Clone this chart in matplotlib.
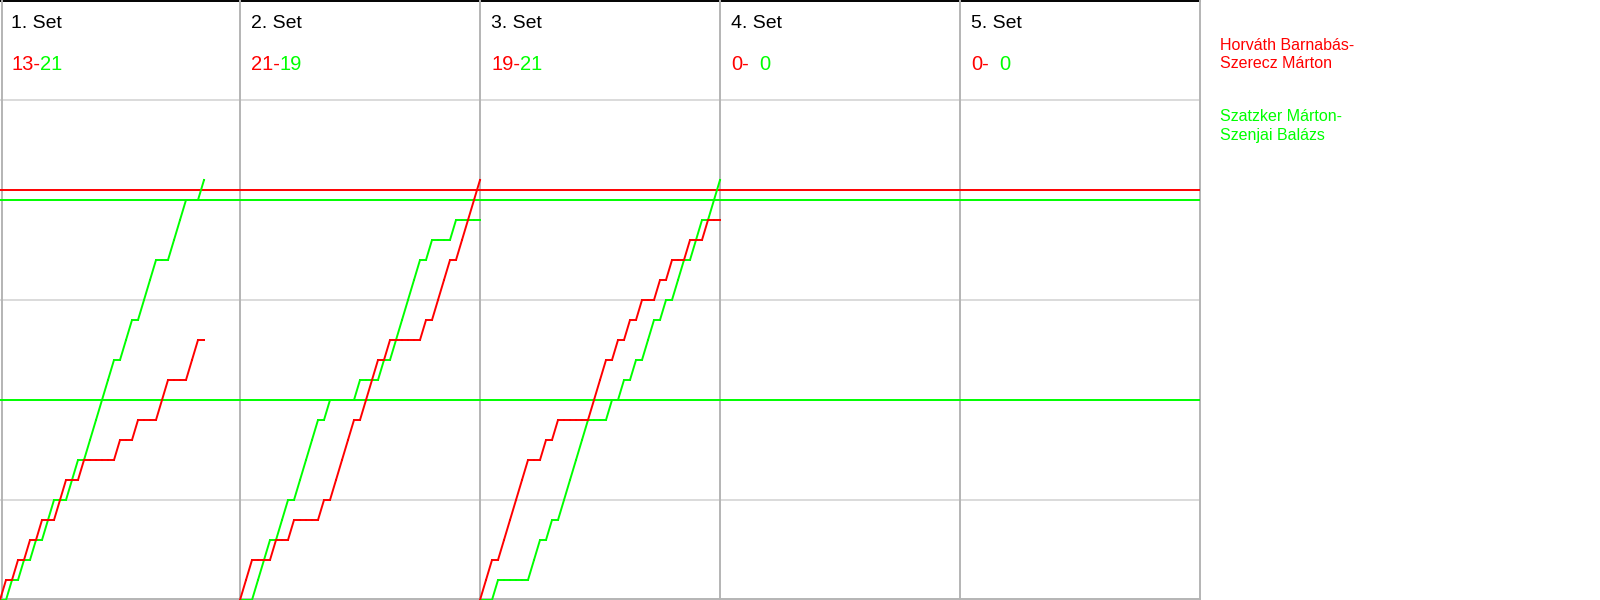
import matplotlib
matplotlib.use("Agg")
import matplotlib.pyplot as plt

plt.rcParams['font.family'] = ['Liberation Sans', 'DejaVu Sans']

RED = '#ff0000'
GREEN = '#00ff00'

set_labels = ["1. Set", "2. Set", "3. Set", "4. Set", "5. Set"]
red_final = [13, 21, 19, 0, 0]
green_final = [21, 19, 21, 0, 0]

team_red = "Horváth Barnabás-\nSzerecz Márton"
team_green = "Szatzker Márton-\nSzenjai Balázs"

# cumulative score after each rally (index 0 = start of set)
set1_red = [0, 1, 1, 2, 2, 3, 3, 4, 4, 4, 5, 6, 6, 6, 7, 7, 7, 7, 7, 7, 8, 8, 8, 9, 9, 9, 9, 10, 11, 11, 11, 11, 12, 13, 13]
set1_green = [0, 0, 1, 1, 2, 2, 3, 3, 4, 5, 5, 5, 6, 7, 7, 8, 9, 10, 11, 12, 12, 13, 14, 14, 15, 16, 17, 17, 17, 18, 19, 20, 20, 20, 21]
set2_red = [0, 1, 2, 2, 2, 2, 3, 3, 3, 4, 4, 4, 4, 4, 5, 5, 6, 7, 8, 9, 9, 10, 11, 12, 12, 13, 13, 13, 13, 13, 13, 14, 14, 15, 16, 17, 17, 18, 19, 20, 21]
set2_green = [0, 0, 0, 1, 2, 3, 3, 4, 5, 5, 6, 7, 8, 9, 9, 10, 10, 10, 10, 10, 11, 11, 11, 11, 12, 12, 13, 14, 15, 16, 17, 17, 18, 18, 18, 18, 19, 19, 19, 19, 19]
set3_red = [0, 1, 2, 2, 3, 4, 5, 6, 7, 7, 7, 8, 8, 9, 9, 9, 9, 9, 9, 10, 11, 12, 12, 13, 13, 14, 14, 15, 15, 15, 16, 16, 17, 17, 17, 18, 18, 18, 19, 19, 19]
set3_green = [0, 0, 0, 1, 1, 1, 1, 1, 1, 2, 3, 3, 4, 4, 5, 6, 7, 8, 9, 9, 9, 9, 10, 10, 11, 11, 12, 12, 13, 14, 14, 15, 15, 16, 17, 17, 18, 19, 19, 20, 21]

red_series = [set1_red, set2_red, set3_red, [], []]
green_series = [set1_green, set2_green, set3_green, [], []]

# reference levels
red_ref = [20.5]
green_ref = [20, 10]

RALLIES_PER_PANEL = 40
Y_MAX = 30

fig = plt.figure(figsize=(16, 6), dpi=100)
ax = fig.add_axes([0, 0, 0.75, 1])
n_sets = len(set_labels)
x_max = RALLIES_PER_PANEL * n_sets
ax.set_xlim(0, x_max)
ax.set_ylim(0, Y_MAX)
ax.axis('off')

# horizontal grid
for gy in range(5, Y_MAX, 5):
    ax.plot([0, x_max], [gy, gy], color='#d4d4d4', lw=1.2, zorder=1)
# borders
ax.plot([0, x_max], [Y_MAX - 0.04, Y_MAX - 0.04], color='black', lw=1.4, clip_on=False, zorder=1)
ax.plot([0, x_max], [0.04, 0.04], color='#b4b4b4', lw=1.4, clip_on=False, zorder=1)
ax.plot([0.35, 0.35], [0, Y_MAX], color='#b4b4b4', lw=1.4, clip_on=False, zorder=1)
for i in range(1, n_sets + 1):
    xv = i * RALLIES_PER_PANEL
    ax.plot([xv, xv], [0, Y_MAX], color='#b4b4b4', lw=1.4, clip_on=False, zorder=1)

# reference lines
for ry in red_ref:
    ax.plot([0, x_max], [ry, ry], color=RED, lw=1.4, zorder=2)
for gy in green_ref:
    ax.plot([0, x_max], [gy, gy], color=GREEN, lw=1.4, zorder=2)

# score progressions
for i in range(n_sets):
    x0 = i * RALLIES_PER_PANEL
    for series, col in ((green_series[i], GREEN), (red_series[i], RED)):
        if series:
            xs = [x0 + k for k in range(len(series))]
            ax.plot(xs, series, color=col, lw=1.4, marker='s', markersize=1.8,
                    markeredgewidth=0, zorder=3, solid_joinstyle='miter')

# header texts
for i in range(n_sets):
    x0 = i * RALLIES_PER_PANEL
    ax.text(x0 + 1.85, Y_MAX - 1.15, set_labels[i], fontsize=14, color='black',
            ha='left', va='center')
    ax.text(x0 + 1.85, Y_MAX - 3.25, f"{red_final[i]}-", fontsize=14.5, color=RED,
            ha='left', va='center')
    ax.text(x0 + 6.6, Y_MAX - 3.25, f"{green_final[i]}", fontsize=14.5, color=GREEN,
            ha='left', va='center')

# legend texts
fig.text(1220 / 1600, 1 - 54.5 / 600, team_red, fontsize=11.5, color=RED,
         ha='left', va='center', linespacing=1.32)
fig.text(1220 / 1600, 1 - 126 / 600, team_green, fontsize=11.5, color=GREEN,
         ha='left', va='center', linespacing=1.32)

fig.savefig('out.png', dpi=100)
